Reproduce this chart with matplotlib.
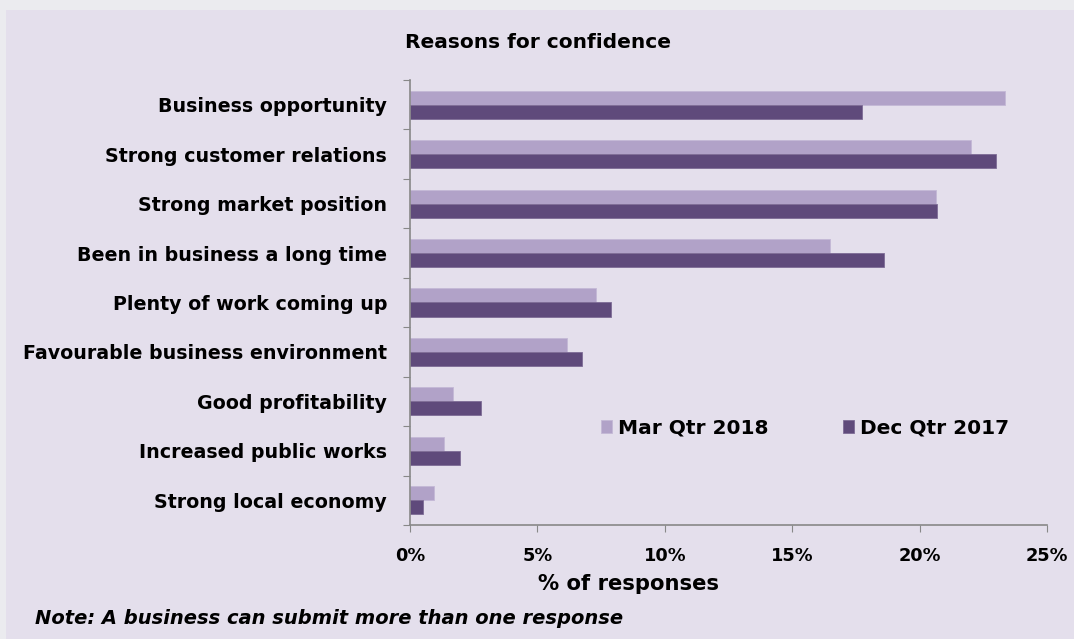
import numpy as np
import matplotlib
matplotlib.use("Agg")
import matplotlib.pyplot as plt
from matplotlib.patches import Rectangle

# data (% of responses)
reasons = ["Business opportunity", "Strong customer relations", "Strong market position",
           "Been in business a long time", "Plenty of work coming up",
           "Favourable business environment", "Good profitability",
           "Increased public works", "Strong local economy"]
mar_2018 = [23.35, 22.0, 20.65, 16.5, 7.3, 6.15, 1.7, 1.35, 0.95]
dec_2017 = [17.75, 23.0, 20.7, 18.6, 7.9, 6.75, 2.8, 1.95, 0.5]
series_names = ["Mar Qtr 2018", "Dec Qtr 2017"]
xticks = [0, 5, 10, 15, 20, 25]

light = "#B1A2C8"
dark = "#5F4A7B"
plt.rcParams['font.family'] = ['DejaVu Sans']

fig = plt.figure(figsize=(10.74, 6.39), dpi=100)
fig.patch.set_facecolor("#EBEBEF")
fig.patches.append(Rectangle((6/1074, 0), 1, 1 - 10/639, transform=fig.transFigure,
                             facecolor="#E4DFEC", edgecolor="none", zorder=-10))

ax = fig.add_axes([410/1074, 1 - 525/639, 637/1074, 445/639])
ax.set_facecolor("none")

y = np.arange(len(reasons))
h = 0.285
ax.barh(y - h/2, mar_2018, height=h, color=light, edgecolor="#C4B8D6", linewidth=0.6, label=series_names[0])
ax.barh(y + h/2, dec_2017, height=h, color=dark, edgecolor="#7E6C96", linewidth=0.6, label=series_names[1])

ax.set_ylim(len(reasons) - 0.5, -0.5)
ax.set_xlim(0, 25)

# category boundaries as ticks, names in the middle
ax.set_yticks(np.arange(-0.5, len(reasons)), labels=[])
ax.set_yticks(y, labels=reasons, minor=True)
ax.tick_params(axis="y", which="major", length=5, color="#888888", direction="out")
ax.tick_params(axis="y", which="minor", length=0, pad=16.5)
ax.set_xticks(xticks, labels=[f"{v}%" for v in xticks])
ax.tick_params(axis="x", length=5, color="#888888", pad=11)
for lab in ax.get_yticklabels(minor=True):
    lab.set_fontweight("bold")
    lab.set_fontsize(13.7)
for lab in ax.get_xticklabels():
    lab.set_fontweight("bold")
    lab.set_fontsize(12.8)

for s in ["top", "right"]:
    ax.spines[s].set_visible(False)
for s in ["left", "bottom"]:
    ax.spines[s].set_color("#888888")
    ax.spines[s].set_linewidth(1.2)

ax.set_xlabel("% of responses", fontsize=15.2, fontweight="bold")
ax.xaxis.set_label_coords((628 - 410) / 637, -(584 - 525) / 445)
ax.xaxis.label.set_va("center")

fig.text(538/1074, 1 - 43/639, "Reasons for confidence", ha="center", va="center",
         fontsize=14.5, fontweight="bold")

leg = ax.legend(loc="center left", bbox_to_anchor=(0.30, 0.218), ncol=2, frameon=False,
                prop={"weight": "bold", "size": 14.5}, handlelength=0.55, handleheight=0.65,
                handletextpad=0.3, columnspacing=3.7, borderpad=0, borderaxespad=0)

fig.text(35/1074, 1 - 619/639, "Note: A business can submit more than one response",
         ha="left", va="center", fontsize=14, fontweight="bold", style="italic")

fig.savefig("out.png", dpi=100, facecolor=fig.get_facecolor())
